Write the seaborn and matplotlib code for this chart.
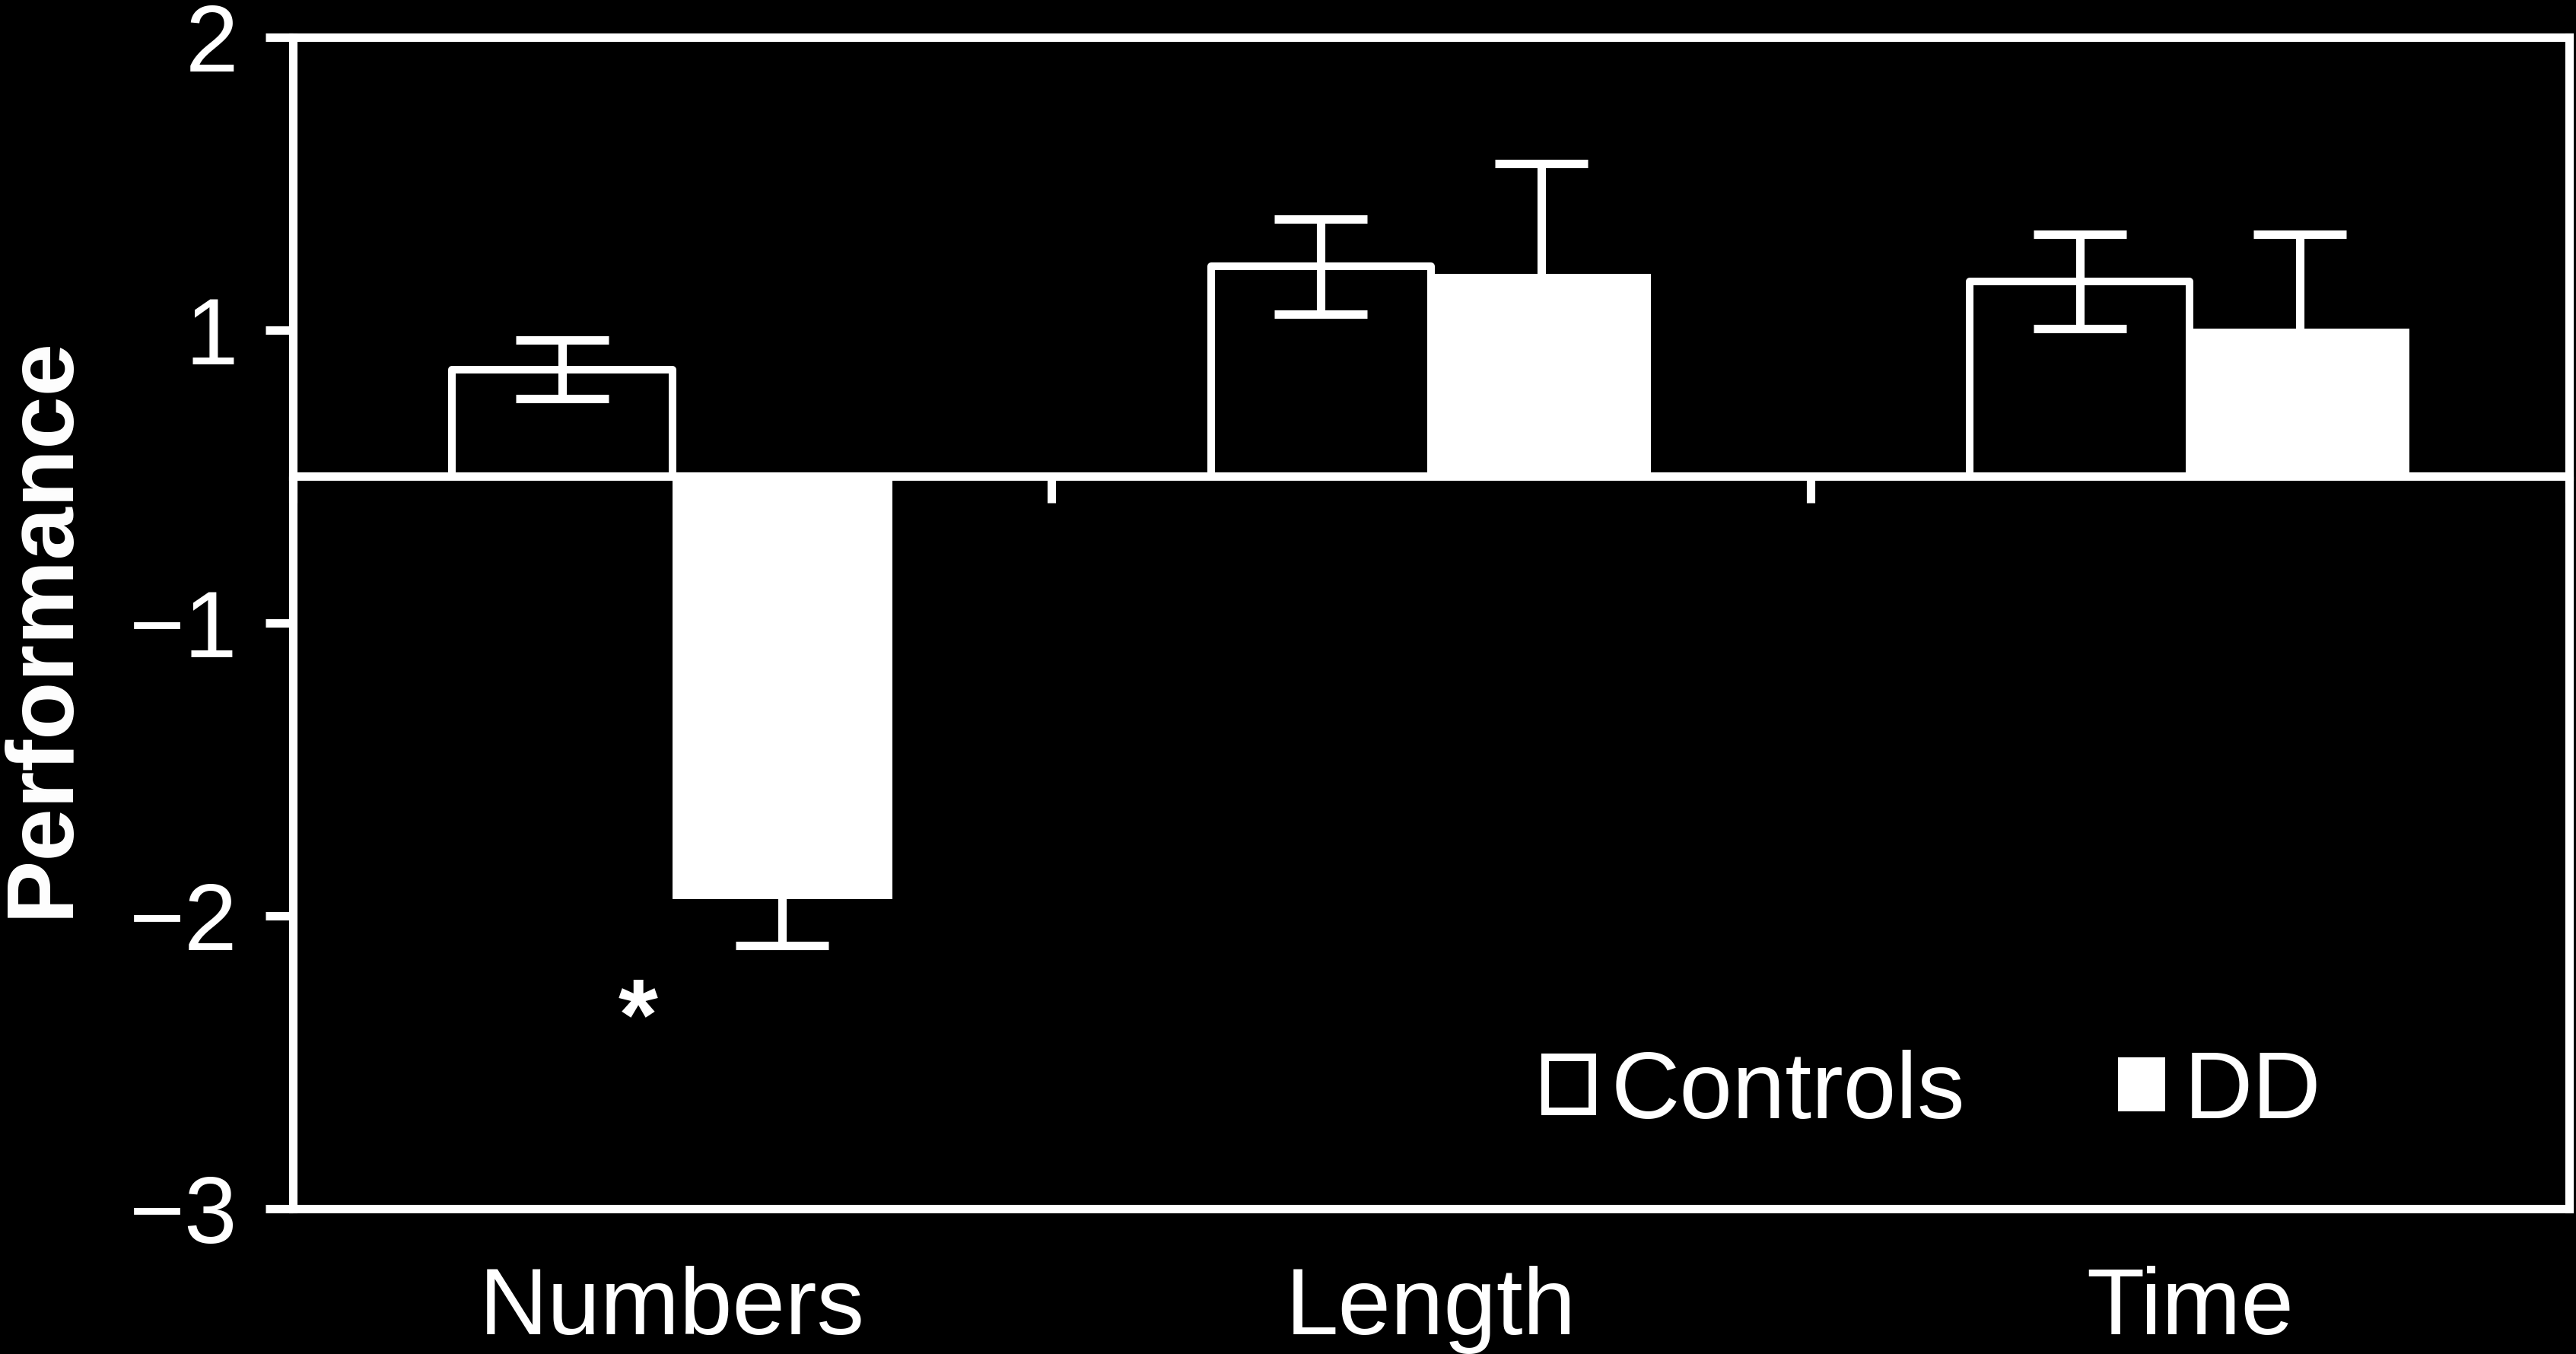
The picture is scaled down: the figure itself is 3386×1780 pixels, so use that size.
import matplotlib
matplotlib.use('Agg')
import matplotlib.pyplot as plt
import seaborn as sns
import pandas as pd

# ---- data ----
categories = ['Numbers', 'Length', 'Time']
groups = ['Controls', 'DD']
controls_mean = [0.366, 0.717, 0.665]
controls_err = [0.100, 0.162, 0.161]
dd_mean = [-1.444, 0.691, 0.504]
dd_err = [0.158, 0.379, 0.322]
ytick_pos = [1.5, 0.5, -0.5, -1.5, -2.5]
ytick_labels = ['2', '1', '\u22121', '\u22122', '\u22123']
ylabel_text = 'Performance'
star_text = '*'
star_pos = (-0.045, -1.955)

sns.set_theme(style='ticks')
plt.rcParams['font.family'] = ['Liberation Sans', 'DejaVu Sans']
plt.rcParams['axes.unicode_minus'] = True

df = pd.DataFrame({
    'task': categories * 2,
    'group': [groups[0]] * len(categories) + [groups[1]] * len(categories),
    'value': controls_mean + dd_mean,
})

FS = 90
LW = 8

fig = plt.figure(figsize=(33.86, 17.80), dpi=100, facecolor='black')
ax = fig.add_axes([0.1137, 0.1073, 0.8836, 0.8652])
ax.set_facecolor('black')

sns.barplot(data=df, x='task', y='value', hue='group', order=categories,
            hue_order=groups, palette={'Controls': 'black', 'DD': 'white'},
            width=0.58, errorbar=None, edgecolor='white', linewidth=7.2,
            ax=ax, zorder=3, legend=False)

bar_containers = list(ax.containers)
for p in bar_containers[0]:
    p.set_joinstyle('round')
for p in bar_containers[1]:
    p.set_linewidth(0)

for cont, errs in zip(bar_containers, [controls_err, dd_err]):
    xs = [p.get_x() + p.get_width() / 2 for p in cont]
    ys = [p.get_y() + p.get_height() for p in cont]
    ax.errorbar(xs, ys, yerr=errs, fmt='none', ecolor='white', elinewidth=LW,
                capsize=44, capthick=LW, zorder=4)

ax.set_xlim(-0.5, len(categories) - 0.5)
ax.set_ylim(min(ytick_pos), max(ytick_pos))

# frame
for s in ax.spines.values():
    s.set_visible(True)
    s.set_color('white')
    s.set_linewidth(LW)

ax.set_yticks(ytick_pos)
ax.set_yticklabels(ytick_labels)
ax.tick_params(axis='y', length=26, width=LW, color='white', pad=26,
               labelsize=FS, labelcolor='white', direction='out')
ax.tick_params(axis='x', length=0, pad=54, labelsize=FS, labelcolor='white')
ax.set_xlabel('')
ax.set_ylabel(ylabel_text, fontsize=FS, fontweight='bold', color='white')
ax.yaxis.set_label_coords(-0.0905, 0.497)

# zero line with category-boundary ticks
sec = ax.secondary_xaxis(0, transform=ax.transData)
sec.set_xticks([i - 0.5 for i in range(len(categories) + 1)])
sec.tick_params(axis='x', length=25, width=LW, color='white',
                labelbottom=False, labeltop=False, direction='out')
for s in sec.spines.values():
    s.set_color('white')
    s.set_linewidth(LW)
sec.patch.set_visible(False)

ax.text(star_pos[0], star_pos[1], star_text, fontsize=FS + 6, fontweight='bold',
        color='white', ha='center', va='baseline', zorder=5)

leg = ax.legend(handles=bar_containers, labels=groups, loc='center left',
                bbox_to_anchor=(0.550, 0.098), ncol=2, frameon=False,
                fontsize=FS, handlelength=0.5, handleheight=0.5,
                handletextpad=0.2, columnspacing=1.6, borderpad=0,
                borderaxespad=0, labelcolor='white')

fig.savefig('out.png', dpi=100, facecolor='black')
